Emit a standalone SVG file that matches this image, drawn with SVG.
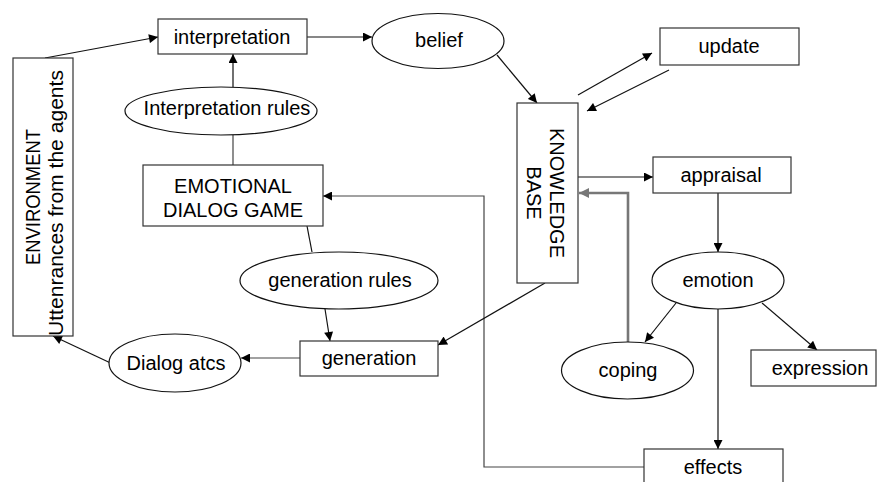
<svg xmlns="http://www.w3.org/2000/svg" width="878" height="482" viewBox="0 0 878 482">
<style>
text{font-family:"Liberation Sans",Arial,sans-serif;font-size:20px;fill:#000;text-anchor:middle}
.box{fill:#fff;stroke:#333;stroke-width:1.2}
.ell{fill:#fff;stroke:#111;stroke-width:1.2}
.ln{fill:none;stroke:#111;stroke-width:1.2}
.gl{fill:none;stroke:#444;stroke-width:1.2}
.gray{fill:none;stroke:#777;stroke-width:2.6}
</style>
<defs>
<marker id="ah" viewBox="0 0 10 10" refX="10" refY="5" markerWidth="10" markerHeight="9" markerUnits="userSpaceOnUse" orient="auto"><path d="M0,0 L10,5 L0,10 z" fill="#000"/></marker>
<marker id="ahg" viewBox="0 0 10 10" refX="10" refY="5" markerWidth="11" markerHeight="10" markerUnits="userSpaceOnUse" orient="auto"><path d="M0,0 L10,5 L0,10 z" fill="#777"/></marker>
</defs>
<rect width="878" height="482" fill="#fff"/>
<g id="connectors">
<line class="ln" x1="45" y1="58" x2="158" y2="37" marker-end="url(#ah)"/>
<line class="ln" x1="307" y1="37" x2="372" y2="37" marker-end="url(#ah)"/>
<line class="ln" x1="233" y1="87" x2="233" y2="54" marker-end="url(#ah)"/>
<line class="gl" x1="233" y1="135" x2="233" y2="165"/>
<line class="ln" x1="497" y1="55" x2="537" y2="103" marker-end="url(#ah)"/>
<line class="ln" x1="578" y1="95" x2="652" y2="53" marker-end="url(#ah)"/>
<line class="ln" x1="669" y1="70" x2="587" y2="111" marker-end="url(#ah)"/>
<line class="ln" x1="578" y1="177" x2="653" y2="177" marker-end="url(#ah)"/>
<polyline class="gray" points="628,342 628,193 579,193" marker-end="url(#ahg)"/>
<line class="ln" x1="718" y1="193" x2="718" y2="252" marker-end="url(#ah)"/>
<line class="ln" x1="676" y1="303" x2="645" y2="342" marker-end="url(#ah)"/>
<line class="ln" x1="762" y1="303" x2="817" y2="350" marker-end="url(#ah)"/>
<line class="ln" x1="718" y1="309" x2="718" y2="449" marker-end="url(#ah)"/>
<polyline class="gl" points="644,467 484,467 484,196 323,196" marker-end="url(#ah)"/>
<line class="ln" x1="307" y1="226" x2="312" y2="252"/>
<line class="ln" x1="325" y1="309" x2="330" y2="341" marker-end="url(#ah)"/>
<line class="ln" x1="545" y1="283" x2="438" y2="345" marker-end="url(#ah)"/>
<line class="gl" x1="300" y1="358" x2="241" y2="358" marker-end="url(#ah)"/>
<line class="ln" x1="117" y1="366" x2="53" y2="336" marker-end="url(#ah)"/>
</g>
<g id="environment">
<rect class="box" x="13" y="58" width="60" height="278"/>
<g transform="translate(43,197) rotate(-90)">
<text x="0" y="-3.5" textLength="136" lengthAdjust="spacingAndGlyphs">ENVIRONMENT</text>
<text x="-6" y="20" textLength="266" lengthAdjust="spacingAndGlyphs">Uttenrances from the agents</text>
</g>
</g>
<g id="interpretation">
<rect class="box" x="158" y="19" width="149" height="35"/>
<text x="232" y="44">interpretation</text>
</g>
<g id="belief">
<ellipse class="ell" cx="438" cy="41" rx="66" ry="27.5"/>
<text x="439" y="47">belief</text>
</g>
<g id="update">
<rect class="box" x="660" y="28" width="139" height="37"/>
<text x="729" y="53">update</text>
</g>
<g id="interpretation-rules">
<ellipse class="ell" cx="221" cy="111" rx="96" ry="24"/>
<text x="227" y="115">Interpretation rules</text>
</g>
<g id="emotional-dialog-game">
<rect class="box" x="143" y="165" width="180" height="61"/>
<text x="233" y="193">EMOTIONAL</text>
<text x="233" y="217">DIALOG GAME</text>
</g>
<g id="knowledge-base">
<rect class="box" x="517" y="103" width="61" height="180"/>
<g transform="translate(547.5,193) rotate(90)">
<text x="0" y="-2.5">KNOWLEDGE</text>
<text x="0" y="20.5">BASE</text>
</g>
</g>
<g id="appraisal">
<rect class="box" x="653" y="157" width="138" height="36"/>
<text x="721" y="182">appraisal</text>
</g>
<g id="generation-rules">
<ellipse class="ell" cx="339" cy="280.5" rx="99" ry="28.5"/>
<text x="340" y="287">generation rules</text>
</g>
<g id="emotion">
<ellipse class="ell" cx="718" cy="280.5" rx="66" ry="28.5"/>
<text x="718" y="287">emotion</text>
</g>
<g id="generation">
<rect class="box" x="300" y="341" width="138" height="35"/>
<text x="369" y="365">generation</text>
</g>
<g id="dialog-acts">
<ellipse class="ell" cx="175" cy="363" rx="66" ry="29"/>
<text x="176" y="370">Dialog atcs</text>
</g>
<g id="coping">
<ellipse class="ell" cx="627.5" cy="370.5" rx="66" ry="28.5"/>
<text x="628" y="377">coping</text>
</g>
<g id="expression">
<rect class="box" x="751" y="350" width="125" height="36"/>
<text x="820" y="375">expression</text>
</g>
<g id="effects">
<rect class="box" x="644" y="449" width="139" height="45"/>
<text x="713" y="474">effects</text>
</g>
</svg>
